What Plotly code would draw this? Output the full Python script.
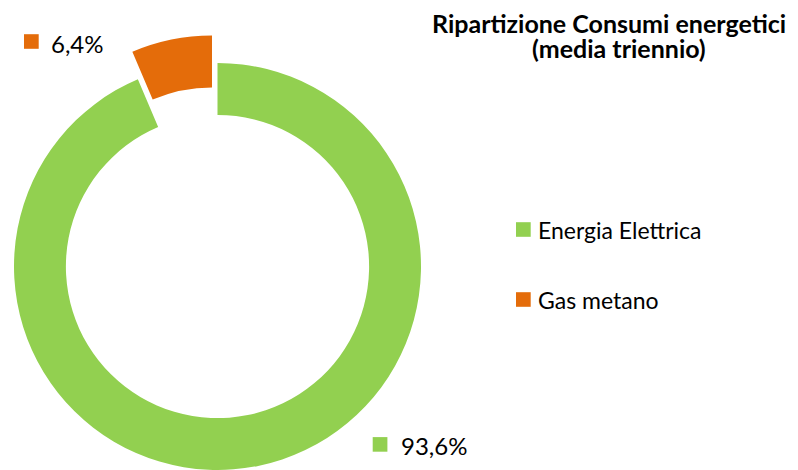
import plotly.graph_objects as go

# data
labels = ["Energia Elettrica", "Gas metano"]
values = [93.6, 6.4]
colors = ["#92D050", "#E46C0A"]
title_lines = ["Ripartizione Consumi energetici", "(media triennio)"]

OFF = 8  # page body margin, positions below are in screen pixels
W, H = 798 - OFF, 470 - OFF
FONT = "Lato, 'Open Sans', sans-serif"
CLEAR = "rgba(0,0,0,0)"


def px_x(x):
    return (x - OFF) / W


def px_y(y):
    return 1 - (y - OFF) / H


def pct(v):
    return f"{v:.1f}%".replace(".", ",")


def square_dom(cx, cy, r):
    return dict(x=[px_x(cx - r), px_x(cx + r)], y=[px_y(cy + r), px_y(cy - r)])


# ring centred at (217.5, 266.5); the exploded slice is its own pie
# shifted along the slice bisector
ring_dom = square_dom(217.5, 266.5, 203.5)
pull_dom = square_dom(212, 239, 203.5)

fig = go.Figure()
fig.add_trace(go.Pie(
    labels=labels, values=values, hole=0.745,
    marker=dict(colors=[colors[0], CLEAR]),
    sort=False, direction="clockwise", rotation=0,
    textinfo="none", hoverinfo="label+percent",
    showlegend=False, domain=ring_dom,
))
fig.add_trace(go.Pie(
    labels=labels, values=values, hole=0.745,
    marker=dict(colors=[CLEAR, colors[1]]),
    sort=False, direction="clockwise", rotation=0,
    textinfo="none", hoverinfo="label+percent",
    showlegend=False, domain=pull_dom,
))

annotations = []
shapes = []


def key(x0, yc, color):
    shapes.append(dict(type="rect", xref="paper", yref="paper",
                       x0=px_x(x0), x1=px_x(x0 + 14.7),
                       y0=px_y(yc + 7.3), y1=px_y(yc - 7.3),
                       fillcolor=color, line=dict(width=0)))


# data labels with their colour keys
label_pos = {1: (24, 41.5, 50, 43), 0: (372.7, 444.4, 400, 445)}
for i, (sx, sy, tx, ty) in label_pos.items():
    key(sx, sy, colors[i])
    annotations.append(dict(text=pct(values[i]), xref="paper", yref="paper",
                            x=px_x(tx - 1), y=px_y(ty), xanchor="left",
                            yanchor="middle", showarrow=False,
                            font=dict(size=24, color="#000000", family=FONT)))

# legend
legend_y = [229.5, 299.5]
for i, yc in enumerate(legend_y):
    key(516, yc, colors[i])
    annotations.append(dict(text=labels[i], xref="paper", yref="paper",
                            x=px_x(536), y=px_y(yc), xanchor="left",
                            yanchor="middle", showarrow=False,
                            font=dict(size=23, color="#000000", family=FONT)))

# title, two lines set tight like the original
for line, xc, yc in zip(title_lines, [609, 619], [23, 47.5]):
    annotations.append(dict(text=f"<b>{line}</b>", xref="paper", yref="paper",
                            x=px_x(xc), y=px_y(yc), xanchor="center",
                            yanchor="middle", showarrow=False,
                            font=dict(size=25, color="#000000", family=FONT)))

fig.update_layout(
    width=W, height=H,
    margin=dict(l=0, r=0, t=0, b=0),
    paper_bgcolor="white", plot_bgcolor="white",
    annotations=annotations, shapes=shapes,
)

fig.write_html("out.html")
